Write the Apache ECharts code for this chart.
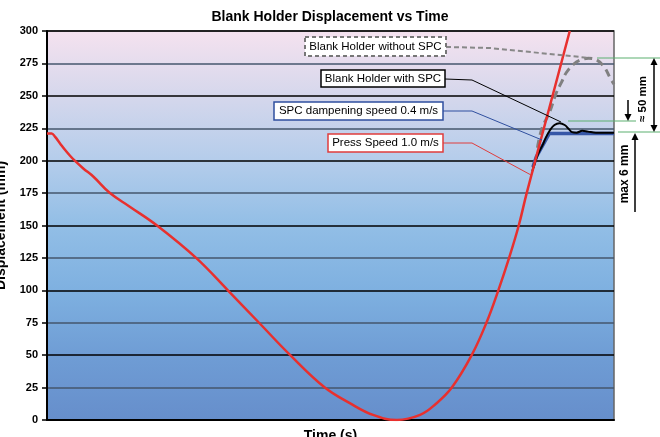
<!DOCTYPE html>
<html><head><meta charset="utf-8">
<script src="https://cdn.jsdelivr.net/npm/echarts@6/dist/echarts.min.js"></script>
<style>html,body{margin:0;padding:0;background:#fff}#c{width:660px;height:437px}</style>
</head><body><div id="c"></div>
<script>
// Data (time in relative units 0..100, displacement in mm)
const yTicks = [0,25,50,75,100,125,150,175,200,225,250,275,300];
const pressSpeed = [[0,221],[0.8,221],[1.4,218.5],[2.3,213.3],[3.2,208.2],[4.1,203.6],[4.9,200],[6.4,194],[8.2,187.6],[11.1,175],[14.6,164.5],[19.4,150],[26.3,125],[31.9,100],[37.4,75],[42.9,50],[49,25],[53.4,13],[57.5,3.9],[61.7,0],[65.8,3.9],[68.6,12.5],[71.4,25],[74.9,50],[77.5,75],[79.6,100],[81.5,125],[83.2,150],[84.6,175],[88.4,237.5],[92.2,300]];
const spcDampening = [[85.7,195],[86.3,203],[88.6,221],[100,221]];
const withSPC = [[85.6,192],[86.6,205],[87.4,212],[87.9,217],[88.7,223.5],[89.5,227.5],[90.4,228.8],[91.3,227.5],[92,224.5],[92.6,222],[93.4,221.6],[94.4,223],[95.4,222.4],[96.8,221.6],[100,221.5]];
const withoutSPC = [[86.5,210],[87.3,225],[88.6,237],[89.8,252],[90.8,261],[91.6,268],[92.8,274],[94,277.5],[95.5,279],[97,277.5],[98.3,272],[99.3,264],[100,259]];

const chart = echarts.init(document.getElementById('c'), null, {renderer:'canvas'});
const FONT = 'Liberation Sans, Arial, sans-serif';

function box(x,y,w,h,stroke,dash,text){
  return [
    {type:'rect', z:100, shape:{x:x,y:y,width:w,height:h}, style:{fill:'#fff', stroke:stroke, lineWidth:dash?2:1.5, lineDash:dash||null}},
    {type:'text', z:101, x:x+w/2, y:y+h/2, style:{text:text, fill:'#000', font:'11.5px '+FONT, align:'center', verticalAlign:'middle'}}
  ];
}
function poly(points,color,width,dash){
  return {type:'polyline', z:90, shape:{points:points}, style:{stroke:color, lineWidth:width, lineDash:dash||null, fill:null}};
}
function arrow(x,y1,y2){ // shaft from y1 to tip y2
  const dir = y2>y1?1:-1;
  return [
    {type:'line', z:95, shape:{x1:x,y1:y1,x2:x,y2:y2-dir*5}, style:{stroke:'#000', lineWidth:1.5}},
    {type:'polygon', z:95, shape:{points:[[x-3.5,y2-dir*7],[x+3.5,y2-dir*7],[x,y2]]}, style:{fill:'#000'}}
  ];
}

const graphics = [].concat(
  box(305,37,141,19,'#777',[4,3],'Blank Holder without SPC'),
  box(321,70,124,17,'#000',null,'Blank Holder with SPC'),
  box(274,102,169,18,'#2f4f9f',null,'SPC dampening speed 0.4 m/s'),
  box(328,134,115,18,'#e03c3c',null,'Press Speed 1.0 m/s'),
  [poly([[446,47],[490,48],[590,58]],'#888',2,[5,3]),
   poly([[445,79],[472,80],[561,122]],'#000',1),
   poly([[443,111],[472,111],[542,140]],'#2f4f9f',1),
   poly([[443,143],[472,143],[531,175]],'#e03c3c',1),
   {type:'line', z:90, shape:{x1:597,y1:58,x2:660,y2:58}, style:{stroke:'#5cb070', lineWidth:1.2}},
   {type:'line', z:90, shape:{x1:568,y1:121,x2:636,y2:121}, style:{stroke:'#5cb070', lineWidth:1.2}},
   {type:'line', z:90, shape:{x1:618,y1:132,x2:660,y2:132}, style:{stroke:'#5cb070', lineWidth:1.2}}],
  arrow(654,95,58), arrow(654,95,132),
  arrow(628,100,121),
  arrow(635,212,133),
  [{type:'text', z:100, x:643, y:99, rotation:Math.PI/2, style:{text:'≈ 50 mm', fill:'#000', font:'bold 11.5px '+FONT, align:'center', verticalAlign:'middle'}},
   {type:'text', z:100, x:625, y:174, rotation:Math.PI/2, style:{text:'max 6 mm', fill:'#000', font:'bold 12px '+FONT, align:'center', verticalAlign:'middle'}}]
);

chart.setOption({
  animation:false,
  backgroundColor:'#fff',
  title:{text:'Blank Holder Displacement vs Time', left:'center', top:5, textStyle:{fontFamily:FONT, fontSize:14, fontWeight:'bold', color:'#000'}},
  grid:{left:47, right:46, top:31, bottom:17, outerBoundsMode:'none', containLabel:false, show:true, borderColor:'#666', borderWidth:1.5,
    backgroundColor:new echarts.graphic.LinearGradient(0,0,0,1,[
      {offset:0,color:'#f5e2ef'},{offset:0.17,color:'#d5d7ec'},{offset:0.33,color:'#b5cdeb'},
      {offset:0.5,color:'#92bee6'},{offset:0.67,color:'#7eb0e0'},{offset:0.83,color:'#6f9dd5'},{offset:1,color:'#668ecb'}])},
  xAxis:{type:'value', min:0, max:100, name:'Time (s)', nameLocation:'middle', nameGap:9,
    nameTextStyle:{fontFamily:FONT, fontSize:14, fontWeight:'bold', color:'#000'},
    axisLine:{show:true, onZero:false, lineStyle:{color:'#000', width:2}}, axisTick:{show:false}, axisLabel:{show:false}, splitLine:{show:false}},
  yAxis:{type:'value', min:0, max:300, interval:25, name:'Displacement (mm)', nameLocation:'middle', nameGap:39,
    nameTextStyle:{fontFamily:FONT, fontSize:14, fontWeight:'bold', color:'#000'},
    axisLine:{show:true, lineStyle:{color:'#000', width:2}},
    axisTick:{show:true, length:5, lineStyle:{color:'#000', width:1.5}},
    axisLabel:{fontFamily:FONT, fontSize:11, fontWeight:'bold', color:'#000', margin:9,
      formatter:function(v){return yTicks.indexOf(v)>=0?String(v):'';}},
    splitLine:{show:true, lineStyle:{color:['#000','#45566c'], width:1.5}}},
  series:[
    {type:'line', data:spcDampening, symbol:'none', smooth:false, lineStyle:{color:'#3656a6', width:3.5}, z:3},
    {type:'line', data:withoutSPC, symbol:'none', smooth:0.4, lineStyle:{color:'#808080', width:3, type:[8,5]}, z:4},
    {type:'line', data:withSPC, symbol:'none', smooth:0.4, lineStyle:{color:'#000', width:2}, z:5},
    {type:'line', data:pressSpeed, symbol:'none', smooth:0.4, lineStyle:{color:'#e8302e', width:2.5}, z:6}
  ],
  graphic:graphics
});
</script></body></html>
